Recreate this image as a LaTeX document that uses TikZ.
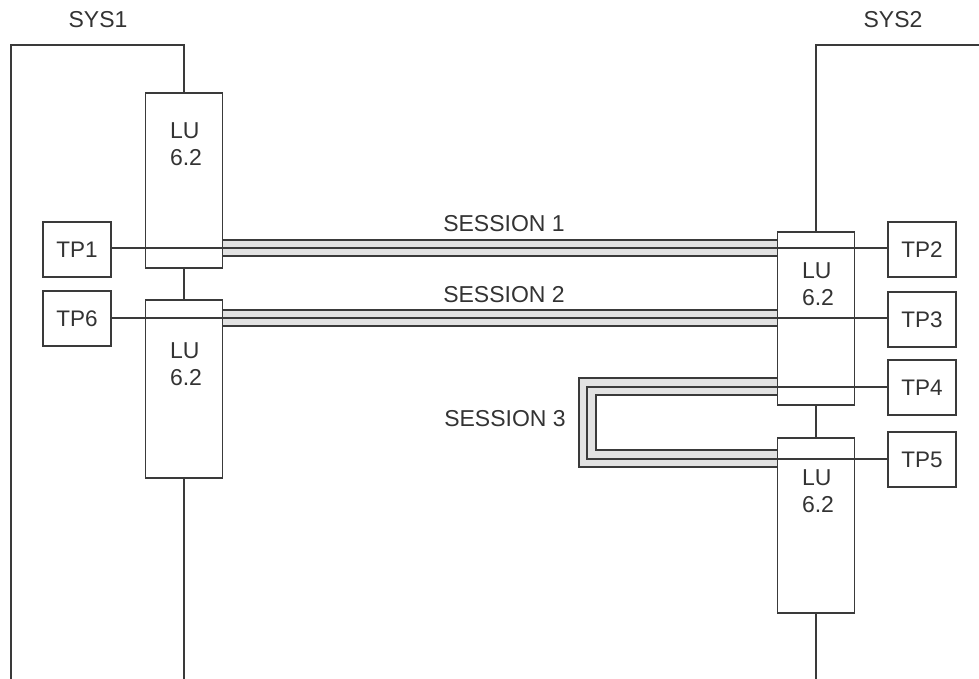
\documentclass[tikz,border=0pt]{standalone}
\usepackage{fontspec}
\setmainfont{Liberation Sans}
\definecolor{linec}{HTML}{3A3A3A}
\definecolor{textc}{HTML}{333333}
\definecolor{bandc}{HTML}{E2E2E2}
\begin{document}
\begin{tikzpicture}[x=1pt,y=-1pt,
  ln/.style={draw=linec, line width=1.2pt},
  lubox/.style={draw=linec, line width=1.2pt, minimum width=77pt, inner sep=0pt},
  tpbox/.style={draw=linec, line width=1.2pt, minimum width=68pt, minimum height=55pt, inner sep=0pt, text=textc, font=\fontsize{22.5}{25}\selectfont},
  lbl/.style={text=textc, inner sep=0pt, font=\fontsize{23}{27}\selectfont},
  band/.style={fill=bandc, draw=none}]
\useasboundingbox (0,0) rectangle (979,679);
% bands (fill)
\fill[band] (222,240) rectangle (777,256);
\fill[band] (222,310) rectangle (777,326);
\fill[band] (777,378) -- (579,378) -- (579,467) -- (777,467) -- (777,450) -- (596,450) -- (596,395) -- (777,395) -- cycle;
% LU boxes
\node[lubox, minimum height=175pt] (lu1) at (184,180.5) {};
\node[lubox, minimum height=178pt] (lu2) at (184,389) {};
\node[lubox, minimum height=173pt] (lu3) at (816,318.5) {};
\node[lubox, minimum height=175pt] (lu4) at (816,525.5) {};
\node[lbl, align=left] (lu1t) at (186,144) {LU\\6.2};
\node[lbl, align=left] (lu2t) at (186,364) {LU\\6.2};
\node[lbl, align=left] (lu3t) at (818,284) {LU\\6.2};
\node[lbl, align=left] (lu4t) at (818,491) {LU\\6.2};
% TP boxes
\node[tpbox] (tp1) at (77,249.5) {TP1};
\node[tpbox] (tp6) at (77,318.5) {TP6};
\node[tpbox] (tp2) at (922,249.5) {TP2};
\node[tpbox] (tp3) at (922,319.5) {TP3};
\node[tpbox] (tp4) at (922,387.5) {TP4};
\node[tpbox] (tp5) at (922,459.5) {TP5};
% labels
\node[lbl] (sys1) at (98,20) {SYS1};
\node[lbl] (sys2) at (893,20) {SYS2};
\node[lbl] (s1) at (504,224) {SESSION 1};
\node[lbl] (s2) at (504,295) {SESSION 2};
\node[lbl] (s3) at (505,418.5) {SESSION 3};
% system outlines
\coordinate (a1) at (11,679);
\coordinate (a2) at (11,45);
\coordinate (a3) at (184,45);
\coordinate (a4) at (184,679);
\coordinate (b1) at (979,45);
\coordinate (b2) at (816,45);
\coordinate (b3) at (816,679);
\draw[ln] (a1) -- (a2) -- (a3) -- (lu1.north);
\draw[ln] (lu1.south) -- (lu2.north);
\draw[ln] (lu2.south) -- (a4);
\draw[ln] (b1) -- (b2) -- (lu3.north);
\draw[ln] (lu3.south) -- (lu4.north);
\draw[ln] (lu4.south) -- (b3);
% session 1
\draw[ln] (222,240) -- (777,240);
\draw[ln] (222,256) -- (777,256);
\draw[ln] (tp1.east |- 0,248) -- (tp2.west |- 0,248);
% session 2
\draw[ln] (222,310) -- (777,310);
\draw[ln] (222,326) -- (777,326);
\draw[ln] (tp6.east |- 0,318) -- (tp3.west |- 0,318);
% session 3
\draw[ln] (777,378) -- (579,378) -- (579,467) -- (777,467);
\draw[ln] (777,395) -- (596,395) -- (596,450) -- (777,450);
\draw[ln] (tp4.west |- 0,387) -- (587,387) -- (587,459) -- (tp5.west |- 0,459);
\end{tikzpicture}
\end{document}
